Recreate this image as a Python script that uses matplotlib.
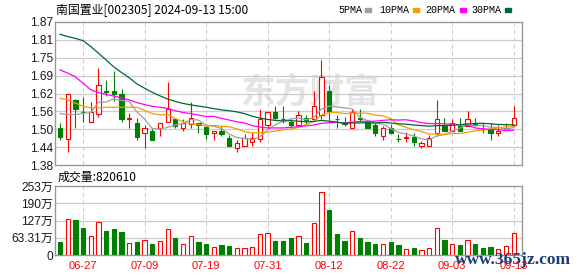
import matplotlib
matplotlib.use('Agg')
import matplotlib.pyplot as plt
from matplotlib.patches import Rectangle
import numpy as np

# ---- data (price in yuan, volume in 万) ----
dates = ['06-24', '06-25', '06-26', '06-27', '06-28',
         '07-01', '07-02', '07-03', '07-04', '07-05',
         '07-08', '07-09', '07-10', '07-11', '07-12',
         '07-15', '07-16', '07-17', '07-18', '07-19',
         '07-22', '07-23', '07-24', '07-25', '07-26',
         '07-29', '07-30', '07-31', '08-01', '08-02',
         '08-05', '08-06', '08-07', '08-08', '08-09',
         '08-12', '08-13', '08-14', '08-15', '08-16',
         '08-19', '08-20', '08-21', '08-22', '08-23',
         '08-26', '08-27', '08-28', '08-29', '08-30',
         '09-02', '09-03', '09-04', '09-05', '09-06',
         '09-09', '09-10', '09-11', '09-12', '09-13']

opens = [1.506, 1.469, 1.604, 1.560, 1.528, 1.555, 1.634, 1.634, 1.624, 1.538,
         1.525, 1.488, 1.495, 1.507, 1.527, 1.536, 1.507, 1.519, 1.525, 1.510,
         1.488, 1.495, 1.474, 1.437, 1.446, 1.460, 1.469, 1.518, 1.563, 1.536,
         1.527, 1.517, 1.542, 1.536, 1.550, 1.634, 1.538, 1.523, 1.508, 1.542,
         1.527, 1.516, 1.478, 1.506, 1.470, 1.474, 1.477, 1.446, 1.446, 1.488,
         1.514, 1.497, 1.514, 1.514, 1.525, 1.504, 1.503, 1.488, 1.499, 1.517]
highs = [1.525, 1.623, 1.606, 1.612, 1.595, 1.713, 1.671, 1.701, 1.640, 1.559,
         1.542, 1.517, 1.502, 1.525, 1.663, 1.538, 1.536, 1.595, 1.525, 1.514,
         1.497, 1.514, 1.482, 1.465, 1.486, 1.493, 1.573, 1.562, 1.581, 1.581,
         1.536, 1.564, 1.553, 1.634, 1.741, 1.654, 1.553, 1.545, 1.572, 1.572,
         1.527, 1.525, 1.514, 1.519, 1.486, 1.494, 1.489, 1.463, 1.482, 1.604,
         1.542, 1.538, 1.542, 1.564, 1.542, 1.525, 1.525, 1.516, 1.525, 1.583]
lows = [1.465, 1.424, 1.507, 1.528, 1.528, 1.545, 1.615, 1.598, 1.527, 1.506,
        1.465, 1.437, 1.467, 1.478, 1.527, 1.506, 1.497, 1.508, 1.488, 1.469,
        1.467, 1.480, 1.446, 1.426, 1.446, 1.446, 1.458, 1.506, 1.536, 1.525,
        1.511, 1.514, 1.519, 1.531, 1.536, 1.534, 1.508, 1.512, 1.508, 1.531,
        1.508, 1.478, 1.467, 1.488, 1.458, 1.458, 1.446, 1.437, 1.446, 1.478,
        1.497, 1.497, 1.497, 1.514, 1.514, 1.488, 1.467, 1.478, 1.499, 1.514]
closes = [1.477, 1.623, 1.573, 1.560, 1.562, 1.653, 1.631, 1.625, 1.536, 1.541,
          1.477, 1.506, 1.467, 1.525, 1.572, 1.514, 1.525, 1.542, 1.517, 1.487,
          1.495, 1.486, 1.446, 1.454, 1.474, 1.474, 1.536, 1.562, 1.542, 1.536,
          1.516, 1.550, 1.533, 1.581, 1.680, 1.564, 1.536, 1.520, 1.562, 1.536,
          1.508, 1.488, 1.506, 1.488, 1.469, 1.477, 1.458, 1.454, 1.474, 1.536,
          1.497, 1.525, 1.497, 1.536, 1.516, 1.504, 1.488, 1.497, 1.508, 1.542]

volumes = [47.0, 132.7, 130.2, 97.7, 71.2, 121.8, 89.2, 94.1, 83.2, 45.8,
           47.0, 56.7, 39.8, 53.1, 96.5, 61.5, 38.6, 71.2, 47.0, 39.8,
           27.7, 35.0, 32.6, 24.1, 24.1, 27.7, 78.4, 82.0, 50.7, 50.7,
           63.9, 71.2, 43.4, 118.2, 231.0, 165.2, 76.0, 50.7, 89.2, 61.5,
           47.0, 39.8, 42.2, 47.0, 35.0, 20.5, 24.1, 16.9, 26.5, 100.1,
           54.3, 38.6, 35.0, 56.7, 39.8, 25.3, 30.2, 22.9, 31.4, 82.061]

ma5 = [1.556, 1.553, 1.553, 1.557, 1.560, 1.595, 1.596, 1.607, 1.601, 1.597,
       1.562, 1.537, 1.505, 1.503, 1.509, 1.517, 1.521, 1.536, 1.534, 1.517,
       1.513, 1.505, 1.486, 1.474, 1.471, 1.467, 1.477, 1.500, 1.518, 1.530,
       1.538, 1.541, 1.535, 1.543, 1.572, 1.582, 1.579, 1.576, 1.572, 1.544,
       1.532, 1.523, 1.520, 1.505, 1.492, 1.486, 1.480, 1.469, 1.466, 1.480,
       1.484, 1.497, 1.506, 1.518, 1.514, 1.516, 1.509, 1.509, 1.503, 1.508]
ma10 = [1.609, 1.603, 1.592, 1.581, 1.576, 1.576, 1.578, 1.578, 1.578, 1.578,
        1.578, 1.567, 1.556, 1.552, 1.553, 1.539, 1.529, 1.521, 1.519, 1.513,
        1.515, 1.513, 1.511, 1.504, 1.494, 1.490, 1.491, 1.493, 1.496, 1.501,
        1.503, 1.509, 1.518, 1.530, 1.551, 1.560, 1.560, 1.556, 1.558, 1.558,
        1.557, 1.551, 1.548, 1.539, 1.518, 1.509, 1.501, 1.495, 1.486, 1.486,
        1.485, 1.488, 1.488, 1.492, 1.497, 1.500, 1.503, 1.507, 1.511, 1.511]
ma20 = [1.706, 1.695, 1.682, 1.660, 1.638, 1.628, 1.622, 1.616, 1.610, 1.603,
        1.594, 1.587, 1.581, 1.578, 1.574, 1.566, 1.560, 1.556, 1.551, 1.546,
        1.547, 1.540, 1.534, 1.528, 1.524, 1.515, 1.510, 1.507, 1.507, 1.507,
        1.509, 1.511, 1.514, 1.517, 1.523, 1.525, 1.526, 1.524, 1.527, 1.529,
        1.530, 1.530, 1.533, 1.535, 1.534, 1.535, 1.531, 1.525, 1.522, 1.522,
        1.521, 1.520, 1.518, 1.516, 1.507, 1.504, 1.502, 1.501, 1.498, 1.499]
ma30 = [1.828, 1.820, 1.814, 1.806, 1.786, 1.763, 1.740, 1.716, 1.697, 1.679,
        1.658, 1.643, 1.629, 1.617, 1.606, 1.598, 1.591, 1.586, 1.582, 1.578,
        1.573, 1.569, 1.566, 1.562, 1.556, 1.547, 1.541, 1.536, 1.533, 1.531,
        1.532, 1.530, 1.528, 1.529, 1.533, 1.530, 1.527, 1.523, 1.524, 1.524,
        1.525, 1.524, 1.526, 1.524, 1.521, 1.520, 1.517, 1.515, 1.513, 1.515,
        1.515, 1.516, 1.518, 1.521, 1.522, 1.523, 1.521, 1.519, 1.518, 1.518]

price_labels = ['1.38', '1.44', '1.50', '1.56', '1.62', '1.69', '1.75', '1.81', '1.87']
vol_labels = ['0', '63.31万', '127万', '190万', '253万']
ma_names = ['5PMA', '10PMA', '20PMA', '30PMA']

# ---- styling ----
W, H = 578, 276
RED = '#ff0000'
GREEN = '#008000'
GRID = '#cccccc'
FRAME = '#999999'
ma_colors = ['#a0a0a0', '#f0a000', '#ff00ff', '#006633']


def fx(px):
    return px / W


def fy(py):
    return 1 - py / H


fig = plt.figure(figsize=(W / 100, H / 100), dpi=100)
fig.patch.set_facecolor('white')
ax_p = fig.add_axes([fx(55), fy(165), (522 - 55) / W, (165 - 22) / H])
ax_v = fig.add_axes([fx(55), fy(255), (522 - 55) / W, (255 - 186) / H])

x = np.arange(len(dates))
up = [c > o or (c == o and (i == 0 or c >= closes[i - 1]))
      for i, (o, c) in enumerate(zip(opens, closes))]
bw = 0.56
lw = 0.8

# candles
for i in x:
    o, h, l, c = opens[i], highs[i], lows[i], closes[i]
    col = RED if up[i] else GREEN
    top, bot = max(o, c), min(o, c)
    if up[i]:
        if h > top:
            ax_p.vlines(i, top, h, color=col, lw=lw, zorder=3)
        if l < bot:
            ax_p.vlines(i, l, bot, color=col, lw=lw, zorder=3)
        face = 'white'
    else:
        ax_p.vlines(i, l, h, color=col, lw=lw, zorder=3)
        face = col
    if top - bot < 0.002:
        ax_p.hlines(top, i - bw / 2, i + bw / 2, color=col, lw=lw, zorder=3)
    else:
        ax_p.add_patch(Rectangle((i - bw / 2, bot), bw, top - bot, facecolor=face,
                                 edgecolor=col, lw=lw, zorder=3))

# moving averages
for ma, col in zip([ma5, ma10, ma20, ma30], ma_colors):
    ax_p.plot(x, ma, color=col, lw=0.9, zorder=4)

# volume bars
for i in x:
    col = RED if up[i] else GREEN
    face = 'white' if up[i] else col
    ax_v.add_patch(Rectangle((i - bw / 2, 0), bw, volumes[i], facecolor=face,
                             edgecolor=col, lw=lw, zorder=3))

# axes setup
xlim = (-0.65, 60.08)
price_pos = np.linspace(1.38, 1.87, len(price_labels))
vol_pos = np.linspace(0, 253.24, len(vol_labels))
label_idx = list(range(3, len(dates), 8))

for ax, pos, labels in [(ax_p, price_pos, price_labels), (ax_v, vol_pos, vol_labels)]:
    ax.set_xlim(*xlim)
    ax.set_ylim(pos[0], pos[-1])
    ax.set_yticks(pos)
    ax.set_yticklabels(labels)
    ax.tick_params(axis='y', length=0, pad=1.5, labelsize=8.6, labelcolor='#1a1a1a')
    for lbl in ax.get_yticklabels():
        lbl.set_fontfamily(['Liberation Sans', 'Noto Sans CJK SC'])
    for s in ax.spines.values():
        s.set_color(FRAME)
        s.set_linewidth(1.0)
    for p in pos[1:-1]:
        ax.axhline(p, color=GRID, lw=0.9, zorder=1)
    for i in label_idx:
        ax.axvline(i, color=GRID, lw=0.75, dashes=(4, 3), zorder=1)

ax_p.set_xticks([])
ax_v.set_xticks(label_idx)
ax_v.set_xticklabels([dates[i] for i in label_idx])
ax_v.tick_params(axis='x', length=0, pad=4, labelsize=8.0, labelcolor=RED)
for lbl in ax_v.get_xticklabels():
    lbl.set_fontfamily('Liberation Sans')

# watermark of the data provider
ax_p.text(fx(310), fy(92), '东方财富', transform=fig.transFigure, ha='center', va='center',
          fontsize=25, fontweight='bold', color='#e4e4e4', family='Noto Sans CJK SC', zorder=0.5)

# title and legend
fig.text(fx(56), fy(10), '南国置业[002305] 2024-09-13 15:00', family='Noto Sans CJK SC',
         fontsize=8.6, ha='left', va='center')
legend_text_x = [338, 379, 425, 471]
legend_box_x = [365, 413, 460, 505]
for name, col, tx, sx in zip(ma_names, ma_colors, legend_text_x, legend_box_x):
    fig.text(fx(tx), fy(10), name, family='Liberation Mono', fontsize=7.2,
             ha='left', va='center')
    fig.add_artist(Rectangle((fx(sx), fy(11.5)), 5.5 / W, 4 / H,
                             transform=fig.transFigure, color=col))

fig.text(fx(58), fy(177), '成交量:%d' % round(volumes[-1] * 10000), family='Noto Sans CJK SC',
         fontsize=8.6, ha='left', va='center')

# site stamp in the corner
fig.text(fx(513), fy(260), 'www.365jz.com', family='Liberation Serif', fontweight='bold',
         fontsize=12.5, color='#1e3c78', ha='center', va='center')

fig.savefig('out.png', dpi=100)
